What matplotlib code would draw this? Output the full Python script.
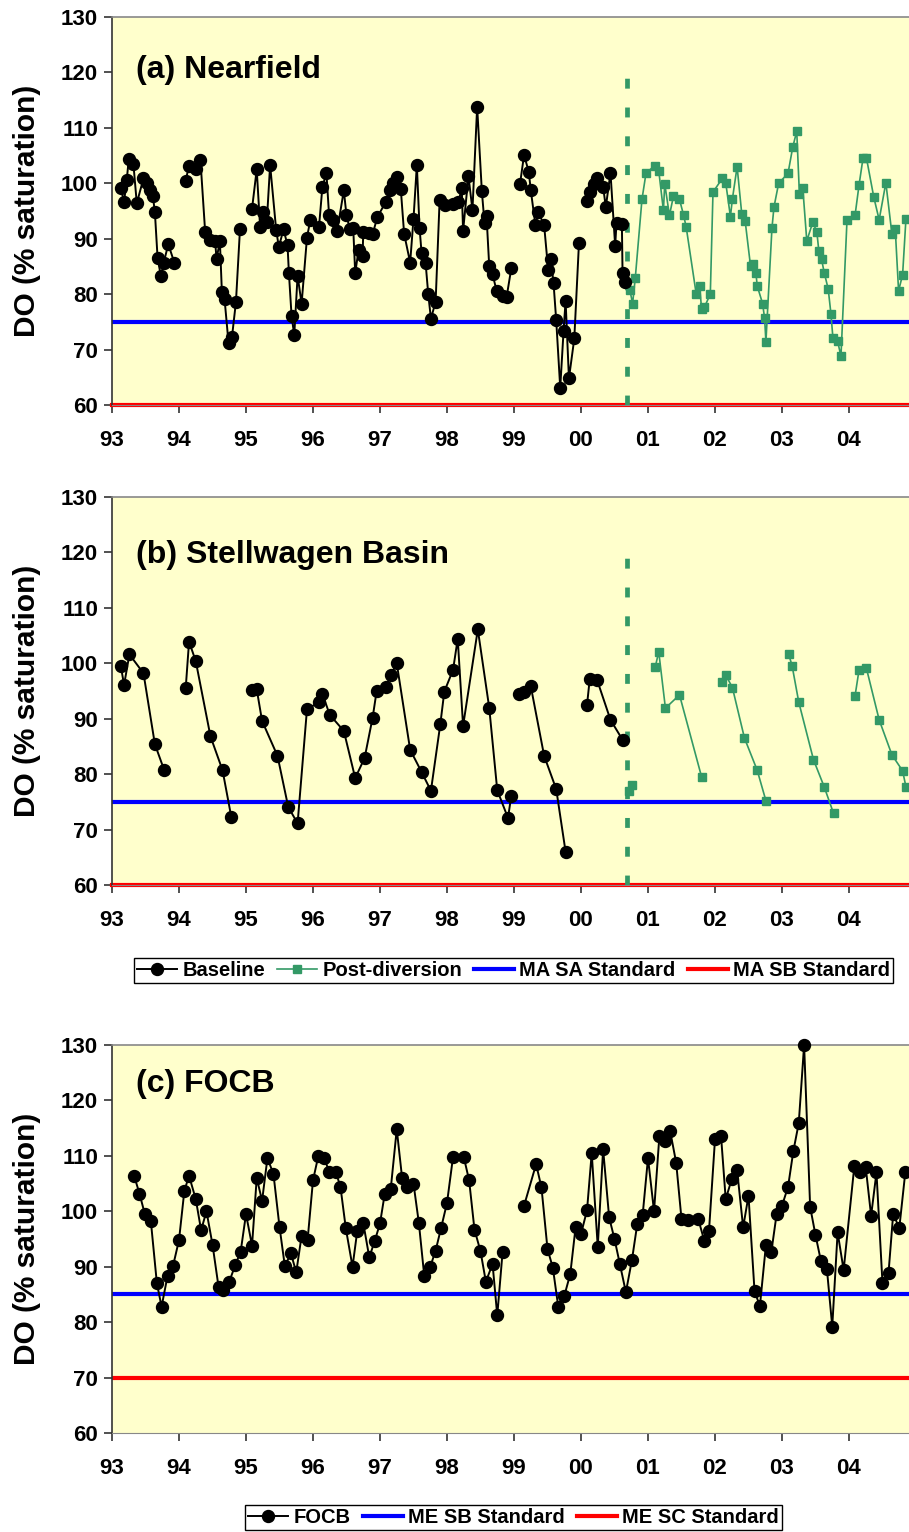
import numpy as np
import matplotlib
matplotlib.use("Agg")
import matplotlib.pyplot as plt
from matplotlib.lines import Line2D

nan = np.nan

# ---------------- data (x = years since 1900, decimal) ----------------
a_base_x = [93.13,93.18,93.22,93.25,93.32,93.37,93.47,93.52,93.57,93.61,93.64,93.68,93.73,93.77,93.84,93.93,nan,
            94.10,94.15,94.25,94.32,94.39,94.46,94.54,94.56,94.61,94.64,94.68,94.74,94.79,94.85,94.91,nan,
            95.09,95.16,95.21,95.25,95.31,95.36,95.45,95.49,95.56,95.62,95.64,95.68,95.72,95.77,95.83,95.91,95.96,
            96.09,96.14,96.20,96.24,96.30,96.36,96.46,96.50,96.55,96.60,96.63,96.68,96.74,96.75,96.83,96.89,96.96,
            97.09,97.15,97.20,97.25,97.31,97.36,97.45,97.50,97.55,97.59,97.62,97.68,97.72,97.76,97.83,97.89,97.97,
            98.09,98.17,98.22,98.24,98.32,98.38,98.45,98.52,98.56,98.59,98.63,98.68,98.74,98.84,98.89,98.96,nan,
            99.09,99.15,99.22,99.25,99.32,99.36,99.45,99.51,99.55,99.59,99.63,99.69,99.74,99.77,99.82,99.90,99.97,nan,
            100.09,100.13,100.19,100.24,100.33,100.37,100.44,100.51,100.53,100.61,100.62,100.66]
a_base_y = [99.1,96.7,100.6,104.3,103.4,96.4,100.9,100.0,98.8,97.7,94.8,86.6,83.2,85.6,89.0,85.7,nan,
            100.5,103.2,102.5,104.2,91.3,89.8,89.5,86.3,89.6,80.4,79.1,71.1,72.2,78.6,91.7,nan,
            95.4,102.5,92.2,94.8,93.0,103.3,91.6,88.5,91.7,88.8,83.9,76.1,72.6,83.3,78.3,90.2,93.4,
            92.2,99.3,101.9,94.2,93.4,91.4,98.7,94.2,91.7,92.0,83.8,88.0,86.8,91.2,91.0,90.8,93.9,
            96.7,98.8,100.0,101.2,99.0,90.9,85.7,93.6,103.3,92.0,87.5,85.7,80.0,75.6,78.6,97.0,96.1,
            96.2,96.6,99.1,91.4,101.3,95.2,113.8,98.6,92.8,94.1,85.1,83.6,80.6,79.6,79.5,84.7,nan,
            99.9,105.1,102.1,98.8,92.4,94.9,92.4,84.4,86.3,82.0,75.3,63.1,73.4,78.8,64.8,72.0,89.3,nan,
            96.8,98.5,99.8,100.9,99.4,95.7,101.9,88.7,92.9,92.7,83.9,82.2]

a_post_x = [100.73,100.77,100.81,100.91,100.97,101.10,101.16,101.23,101.25,101.32,101.38,101.47,101.53,101.57,
            101.72,101.77,101.80,101.84,101.93,101.97,102.11,102.16,102.23,102.26,102.33,102.40,102.45,102.53,
            102.57,102.61,102.63,102.71,102.74,102.76,102.85,102.88,102.95,103.09,103.16,103.22,103.26,103.31,
            103.37,103.46,103.52,103.55,103.59,103.63,103.69,103.73,103.76,103.83,103.88,103.97,104.09,104.15,
            104.21,104.26,104.37,104.45,104.55,104.64,104.69,104.74,104.80,104.85]
a_post_y = [80.7,78.3,82.9,97.1,101.8,103.2,102.3,95.1,99.9,94.2,97.7,97.1,94.3,92.1,
            80.0,81.5,77.3,77.6,80.0,98.4,100.9,100.1,94.0,97.2,103.0,94.4,93.2,85.1,
            85.4,83.9,81.5,78.3,75.7,71.4,91.9,95.7,100.0,101.8,106.5,109.4,98.0,99.2,
            89.6,93.0,91.2,87.8,86.3,83.9,80.9,76.5,72.1,71.5,68.8,93.3,94.2,99.7,
            104.6,104.6,97.5,93.4,100.1,90.9,91.8,80.6,83.5,93.6]

b_base_x = [93.13,93.18,93.26,93.47,93.64,93.78,nan,94.10,94.15,94.25,94.47,94.65,94.78,nan,
            95.09,95.16,95.24,95.47,95.63,95.77,95.91,96.09,96.14,96.25,96.46,96.63,96.77,96.89,96.95,
            97.09,97.16,97.25,97.45,97.62,97.76,97.90,97.96,98.09,98.16,98.24,98.46,98.63,98.75,98.91,98.96,nan,
            99.08,99.15,99.25,99.45,99.63,99.77,nan,100.09,100.13,100.24,100.44,100.62]
b_base_y = [99.6,96.1,101.6,98.2,85.4,80.7,nan,95.5,103.9,100.4,86.8,80.7,72.3,nan,
            95.2,95.3,89.6,83.3,74.1,71.1,91.7,93.0,94.5,90.7,87.8,79.3,82.9,90.2,95.0,
            95.7,97.8,100.0,84.4,80.4,77.0,89.0,94.9,98.8,104.4,88.7,106.1,92.0,77.1,72.1,76.1,nan,
            94.5,94.9,95.9,83.3,77.3,66.0,nan,92.5,97.1,97.0,89.8,86.2]

b_post_x = [100.71,100.76,nan,101.11,101.16,101.26,101.47,101.80,nan,102.11,102.16,102.26,102.44,102.63,102.76,nan,
            103.10,103.15,103.25,103.47,103.63,103.77,nan,104.09,104.15,104.26,104.45,104.64,104.80,104.85]
b_post_y = [77.0,78.0,nan,99.4,102.1,91.9,94.3,79.5,nan,96.7,97.9,95.6,86.5,80.7,75.2,nan,
            101.6,99.6,93.0,82.6,77.7,72.9,nan,94.1,98.8,99.1,89.8,83.5,80.6,77.7]

c_x = [93.33,93.41,93.49,93.58,93.67,93.74,93.83,93.91,94.00,94.08,94.15,94.25,94.33,94.41,94.50,94.59,94.66,
       94.75,94.84,94.92,95.00,95.09,95.16,95.24,95.32,95.41,95.50,95.58,95.67,95.75,95.83,95.92,96.00,96.08,
       96.17,96.24,96.34,96.41,96.49,96.59,96.66,96.75,96.84,96.92,97.00,97.07,97.16,97.25,97.33,97.41,97.50,
       97.58,97.66,97.75,97.83,97.91,98.00,98.09,98.25,98.33,98.41,98.50,98.58,98.68,98.75,98.83,nan,
       99.15,99.33,99.41,99.50,99.58,99.66,99.75,99.84,99.92,100.00,100.09,100.16,100.25,100.33,100.42,100.50,
       100.58,100.67,100.76,100.84,100.92,101.00,101.09,101.17,101.25,101.33,101.42,101.50,101.59,101.75,101.84,
       101.91,102.00,102.09,102.16,102.25,102.33,102.42,102.50,102.59,102.67,102.76,102.84,102.92,103.00,103.09,
       103.17,103.25,103.33,103.42,103.50,103.58,103.67,103.75,103.83,103.92,104.08,104.16,104.25,104.33,104.41,
       104.50,104.59,104.66,104.75,104.84]
c_y = [106.4,103.2,99.5,98.2,87.0,82.8,88.4,90.1,94.8,103.7,106.4,102.2,96.6,100.0,94.0,86.4,85.8,
       87.3,90.3,92.7,99.5,93.8,106.0,101.9,109.6,106.7,97.2,90.1,92.4,89.0,95.6,94.9,105.6,110.0,
       109.6,107.1,107.1,104.4,96.9,90.0,96.4,97.9,91.7,94.6,97.8,103.1,104.0,114.8,106.0,104.4,105.0,
       97.9,88.4,90.0,92.9,96.9,101.5,109.8,109.8,105.6,96.7,92.8,87.3,90.5,81.2,92.7,nan,
       101.0,108.5,104.3,93.2,89.8,82.8,84.7,88.7,97.2,95.9,100.2,110.5,93.6,111.2,98.9,95.0,
       90.5,85.4,91.2,97.7,99.3,109.6,100.0,113.6,112.7,114.5,108.8,98.6,98.4,98.6,94.7,
       96.4,113.0,113.6,102.2,105.8,107.4,97.1,102.8,85.6,82.9,93.9,92.6,99.5,101.0,104.4,
       110.9,115.9,130.0,100.8,95.7,91.1,89.6,79.2,96.2,89.4,108.2,107.1,107.9,99.2,107.0,
       87.0,88.9,99.6,96.9,107.0]

year_ticks = [93, 94, 95, 96, 97, 98, 99, 100, 101, 102, 103, 104]
year_labels = ["93", "94", "95", "96", "97", "98", "99", "00", "01", "02", "03", "04"]
y_ticks = [60, 70, 80, 90, 100, 110, 120, 130]

diversion_x = 100.69
ma_sa, ma_sb = 75, 60
me_sb, me_sc = 85, 70

# ---------------- style ----------------
plt.rcParams['font.family'] = ['Liberation Sans', 'DejaVu Sans']
plt.rcParams['font.weight'] = 'bold'
BG = '#FFFFCC'
GREEN = '#339966'
BLUE = '#0000FF'
RED = '#FF0000'

W, H = 909, 1532
fig = plt.figure(figsize=(W / 100, H / 100), dpi=100)

def px_axes(left, top, right, bottom):
    return fig.add_axes([left / W, 1 - bottom / H, (right - left) / W, (bottom - top) / H])

def style(ax, title, title_y):
    ax.set_facecolor(BG)
    ax.set_xlim(93, 93 + (909 - 112) / 67)
    ax.set_ylim(60, 130)
    ax.set_xticks(year_ticks)
    ax.set_xticklabels(year_labels)
    ax.set_yticks(y_ticks)
    ax.tick_params(axis='both', labelsize=16, length=6, width=1.2, direction='out', color='#333333')
    ax.tick_params(axis='x', pad=12)
    ax.tick_params(axis='y', pad=4)
    for lab in ax.get_xticklabels() + ax.get_yticklabels():
        lab.set_fontweight('bold')
    ax.spines['left'].set_color('#333333')
    ax.spines['left'].set_linewidth(1.2)
    ax.spines['top'].set_color('#888888')
    ax.spines['top'].set_linewidth(1.2)
    ax.spines['right'].set_visible(False)
    ax.spines['bottom'].set_color('#888888')
    ax.set_ylabel("DO (% saturation)", fontsize=21.5, fontweight='bold')
    ax.yaxis.set_label_coords(-0.089, 0.5)
    ax.text(0.030, title_y, title, transform=ax.transAxes, fontsize=23,
            fontweight='bold', va='center', ha='left')

# ---- panel (a)
axa = px_axes(112, 17, 909, 405)
style(axa, "(a) Nearfield", 0.863)
axa.axhline(ma_sa, color=BLUE, lw=3.0, zorder=2)
axa.axhline(ma_sb, color=RED, lw=3.0, zorder=2, clip_on=False)
axa.plot([diversion_x, diversion_x], [60, 120], color=GREEN, lw=3.4, dashes=(2.1, 4.0), zorder=2)
axa.plot(a_base_x, a_base_y, color='black', lw=1.4, marker='o', ms=8.6, zorder=4, clip_on=False)
axa.plot(a_post_x, a_post_y, color=GREEN, lw=1.2, marker='s', ms=6.0, zorder=3, clip_on=False)

# ---- panel (b)
axb = px_axes(112, 497, 909, 885)
style(axb, "(b) Stellwagen Basin", 0.850)
axb.axhline(ma_sa, color=BLUE, lw=3.0, zorder=2)
axb.axhline(ma_sb, color=RED, lw=3.0, zorder=2, clip_on=False)
axb.plot([diversion_x, diversion_x], [60, 120], color=GREEN, lw=3.4, dashes=(2.1, 4.0), zorder=2)
axb.plot(b_base_x, b_base_y, color='black', lw=1.4, marker='o', ms=8.6, zorder=4, clip_on=False)
axb.plot(b_post_x, b_post_y, color=GREEN, lw=1.2, marker='s', ms=6.0, zorder=3, clip_on=False)

# ---- panel (c)
axc = px_axes(112, 1045, 909, 1433)
style(axc, "(c) FOCB", 0.899)
axc.axhline(me_sb, color=BLUE, lw=3.0, zorder=2)
axc.axhline(me_sc, color=RED, lw=3.0, zorder=2)
axc.plot(c_x, c_y, color='black', lw=1.4, marker='o', ms=8.6, zorder=4, clip_on=False)

# ---- legends
h_base = Line2D([], [], color='black', lw=1.4, marker='o', ms=8.6)
h_post = Line2D([], [], color=GREEN, lw=1.2, marker='s', ms=6.0)
h_blue = Line2D([], [], color=BLUE, lw=3.0)
h_red = Line2D([], [], color=RED, lw=3.0)

leg_kw = dict(ncol=4, frameon=True, fancybox=False, edgecolor='black', framealpha=1,
              prop={'weight': 'bold', 'size': 14.5}, handlelength=2.0, handletextpad=0.25,
              columnspacing=0.6, borderpad=0.15, borderaxespad=0)
leg1 = fig.legend([h_base, h_post, h_blue, h_red],
                  ["Baseline", "Post-diversion", "MA SA Standard", "MA SB Standard"],
                  loc='center', bbox_to_anchor=(513.5 / W, 1 - 970.5 / H), **leg_kw)
leg1.get_frame().set_linewidth(1.0)

leg_kw['ncol'] = 3
leg2 = fig.legend([h_base, h_blue, h_red],
                  ["FOCB", "ME SB Standard", "ME SC Standard"],
                  loc='center', bbox_to_anchor=(513.5 / W, 1 - 1517.5 / H), **leg_kw)
leg2.get_frame().set_linewidth(1.0)

fig.savefig("out.png", dpi=100, facecolor='white')
